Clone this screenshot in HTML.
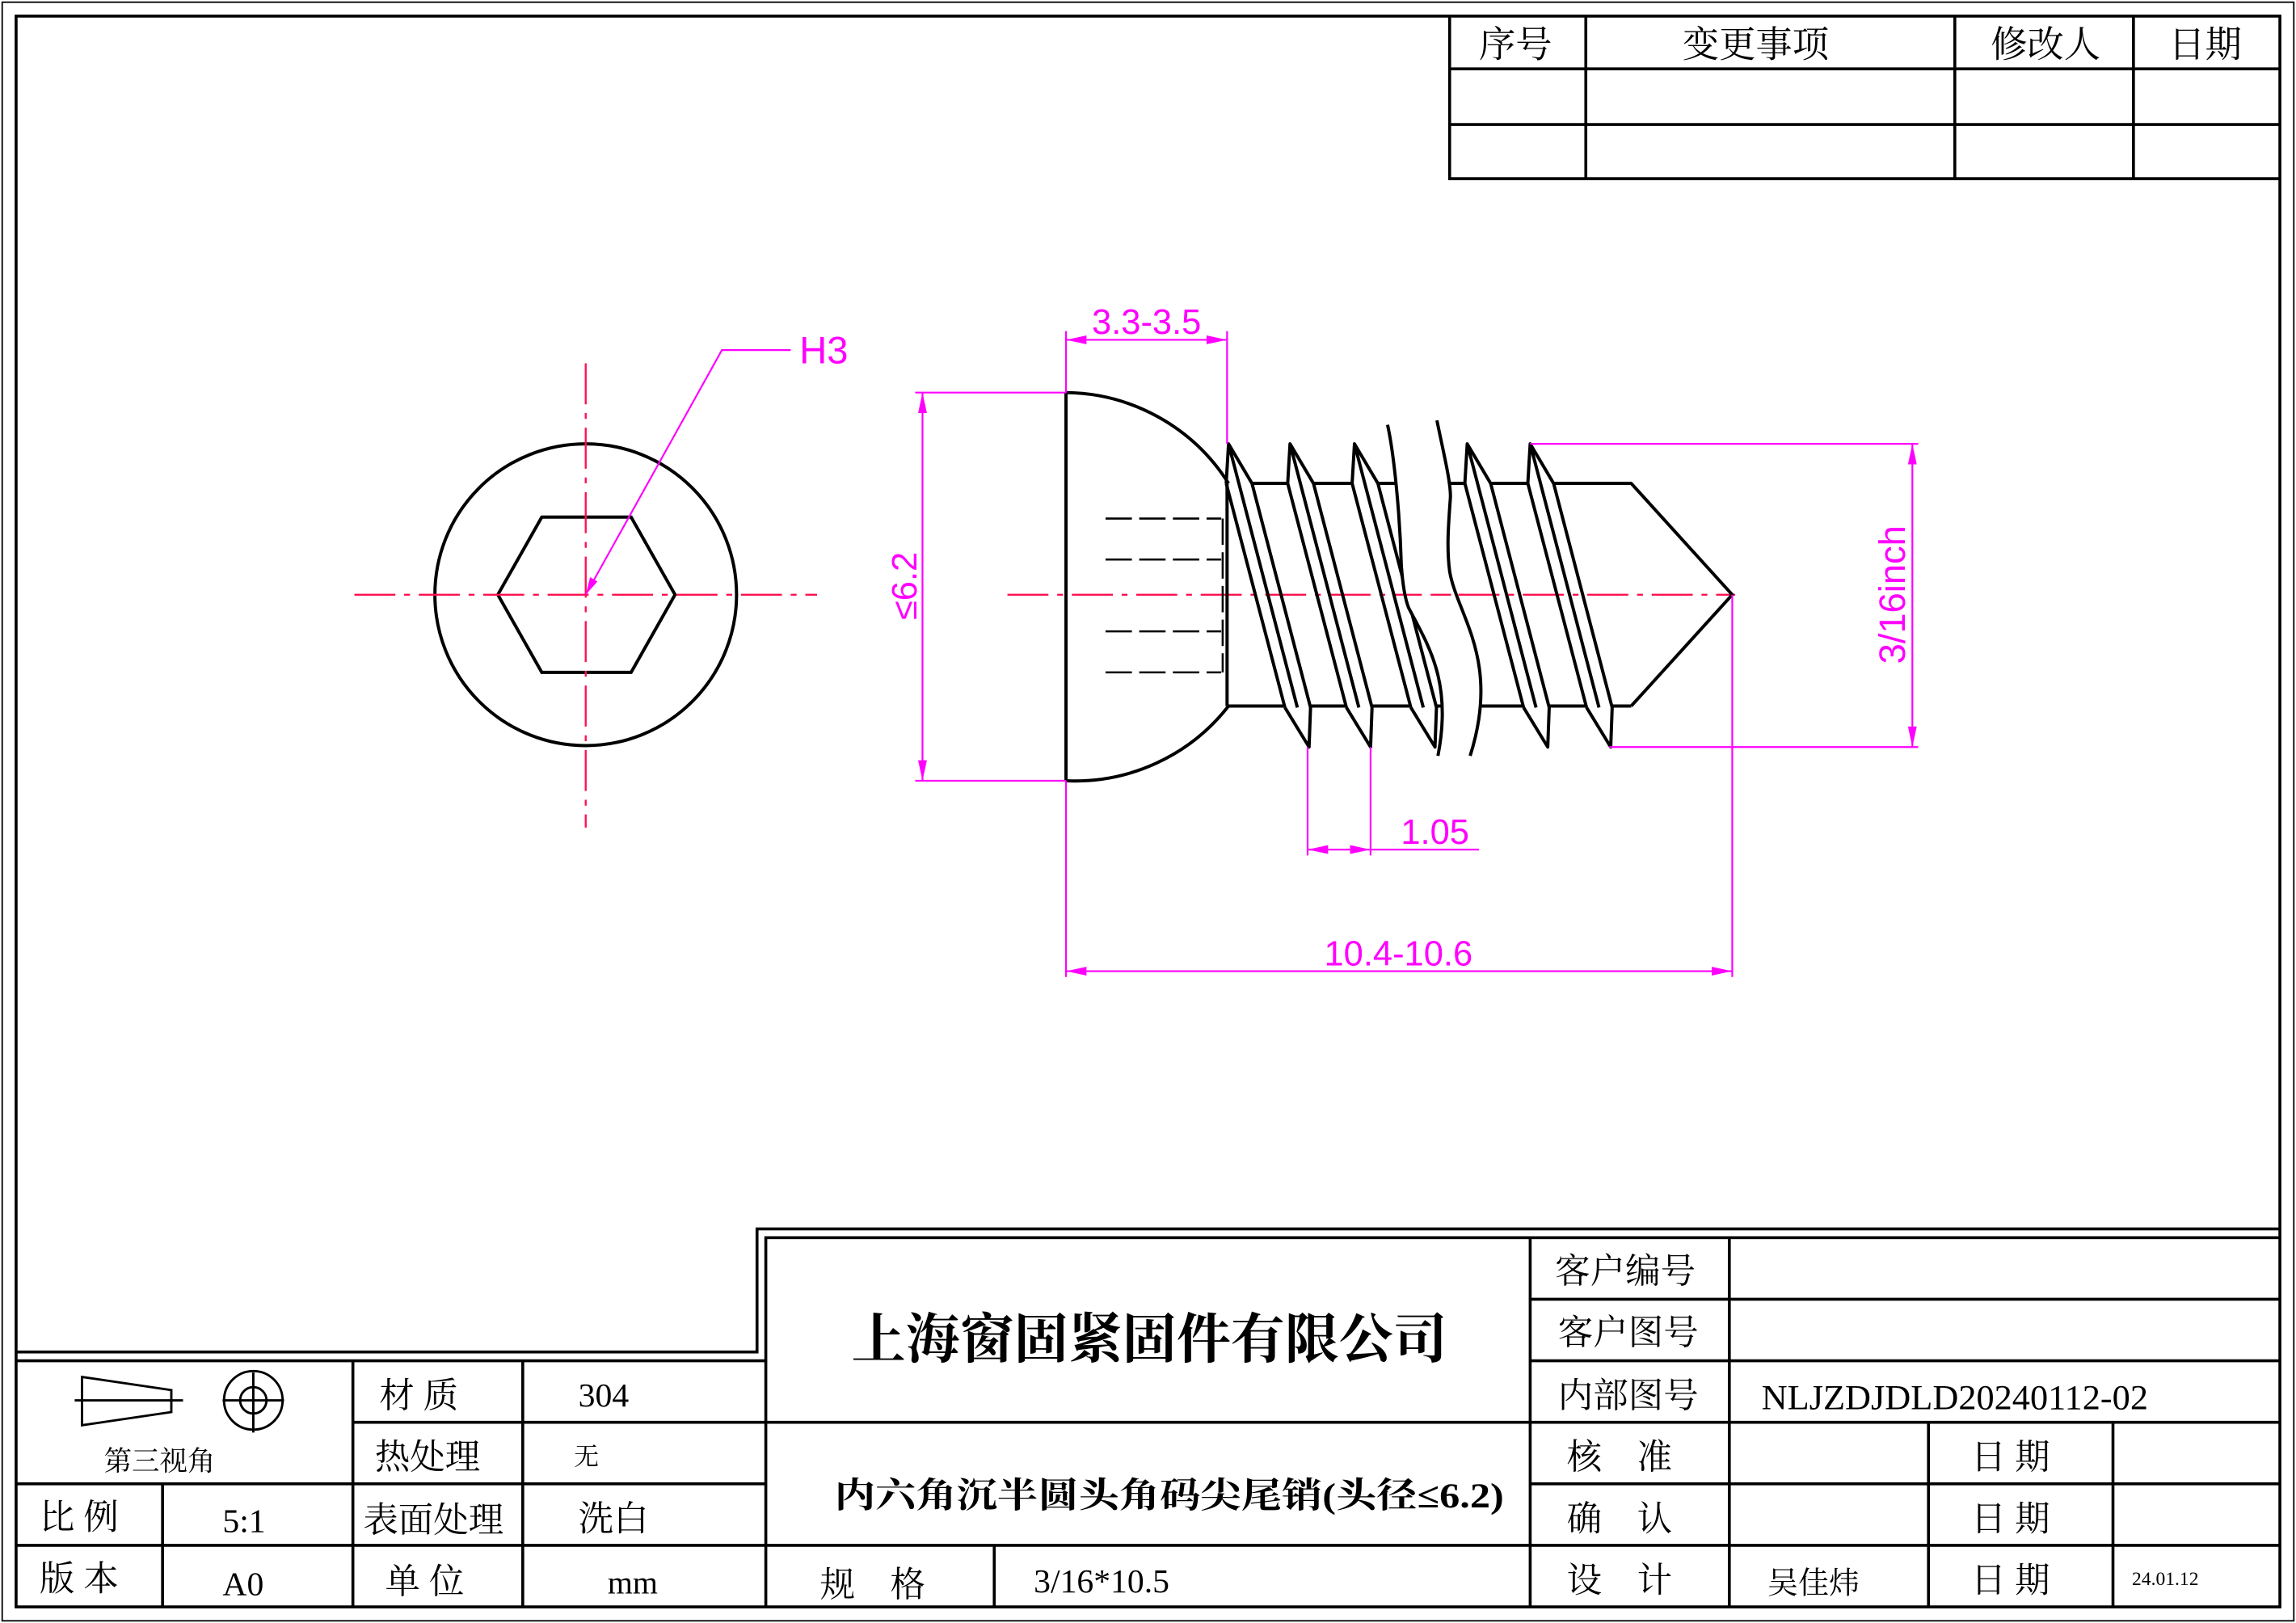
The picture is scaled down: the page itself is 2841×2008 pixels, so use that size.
<!DOCTYPE html>
<html><head><meta charset="utf-8"><style>
html,body{margin:0;padding:0;background:#fff}
svg{display:block}
.cn{font-family:"Liberation Serif","Noto Serif CJK SC",serif;fill:#000}
.lt{font-family:"Liberation Serif","Noto Serif CJK SC",serif;fill:#000}
.dm{font-family:"Liberation Sans","DejaVu Sans",sans-serif;fill:#ff00ff;font-weight:normal}
</style></head><body>
<svg width="2841" height="2008" viewBox="0 0 1568 1108" preserveAspectRatio="none" xmlns="http://www.w3.org/2000/svg">
<rect x="0" y="0" width="1568" height="1108" fill="#fff"/>
<rect x="1.5" y="1.5" width="1565" height="1105" fill="none" stroke="#000" stroke-width="1"/>
<g fill="none" stroke="#000" stroke-width="2">
<path d="M11,11 H1557 V1097 H11 Z"/>
<path d="M11,923 H517 V839 H1557"/>
<path d="M11,929 H523 V845 H1557"/>
<path d="M990,11 V122 H1557 M990,47 H1557 M990,85 H1557 M1083,11 V122 M1335,11 V122 M1457,11 V122"/>
<path d="M11,1013 H523 M11,1055 H523 M241,971 H523 M241,929 V1097 M357,929 V1097 M111,1013 V1097 M523,929 V1097"/>
<path d="M1045,845 V1097 M1181,845 V1097 M1045,887 H1557 M1045,929 H1557 M523,971 H1557 M1045,1013 H1557 M523,1055 H1557 M1317,971 V1097 M1443,971 V1097 M679,1055 V1097"/>
</g>
<g fill="none" stroke="#000" stroke-width="1.6">
<path d="M56,940 L117,949 V964 L56,973 Z"/>
<path d="M51,956 H125"/>
<circle cx="173" cy="956" r="20"/><circle cx="173" cy="956" r="9"/>
<path d="M152,956 H194 M173,937 V978"/>
</g>
<g fill="none" stroke="#000" stroke-width="2.2">
<circle cx="400" cy="406" r="103"/>
<path d="M340,406 L370,353 L431,353 L461,406 L431,459 L370,459 Z"/>
</g>
<g stroke="#ff1050" stroke-width="1.3" stroke-dasharray="28,6,4,6" fill="none">
<path d="M242,406 H558"/><path d="M400,248 V565"/>
<path d="M688,406 H1185"/>
</g>
<g stroke="#ff00ff" stroke-width="1.2" fill="none"><path d="M400,406 L493,239 H540"/></g>
<path d="M400,406 L403,394 L408,397 Z" fill="#ff00ff"/>
<text x="546" y="248" class="dm" font-size="26">H3</text>
<g fill="none" stroke="#000" stroke-width="2.2" stroke-linejoin="round">
<path d="M728,268 V533"/>
<path d="M728,268 A133,133 0 0 1 839,330"/>
<path d="M839,482 A133,133 0 0 1 728,533"/>
<path d="M838,330 V482"/>
<path d="M855,330 H879.4 M897,330 H923.4 M941,330 H1000.4 M1018,330 H1043.4 M1061,330 H1114 L1183,406 L1114,482"/>
<path d="M838,482 H877.5 M895,482 H919.5 M937,482 H963.5 M981,482 H1040.5 M1058,482 H1083.5 M1101,482 H1114"/>
<path d="M837.4,330 L839,303 L855,330 M837.4,330 L877.5,483 M839,303 L886,483 M855,330 L895,483 M877.5,483 L894,510 L895,483"/>
<path d="M879.4,330 L881,303 L897,330 M879.4,330 L919.5,483 M881,303 L928,483 M897,330 L937,483 M919.5,483 L936,510 L937,483"/>
<path d="M923.4,330 L925,303 L941,330 M923.4,330 L963.5,483 M925,303 L972,483 M941,330 L981,483 M963.5,483 L980,510 L981,483"/>
<path d="M1000.4,330 L1002,303 L1018,330 M1000.4,330 L1040.5,483 M1002,303 L1049,483 M1018,330 L1058,483 M1040.5,483 L1057,510 L1058,483"/>
<path d="M1043.4,330 L1045,303 L1061,330 M1043.4,330 L1083.5,483 M1045,303 L1092,483 M1061,330 L1101,483 M1083.5,483 L1100,510 L1101,483"/>
</g>
<path d="M947.6,290 C952,310 956,350 957,386 C958,400 960,410 962,415 C975,440 992,465 982,516 L1004,516 C1025,450 995,420 990,390 C988,375 989,360 990.5,340 C991,330 986,310 981.3,287 Z" fill="#fff" stroke="none"/>
<path d="M957,406 H1000" stroke="#ff1050" stroke-width="1.3" stroke-dasharray="14,6"/>
<g fill="none" stroke="#000" stroke-width="2.2">
<path d="M947.6,290 C952,310 956,350 957,386 C958,400 960,410 962,415 C975,440 992,465 982,516"/>
<path d="M981.3,287 C986,310 991,330 990.5,340 C989,360 988,375 990,390 C995,420 1025,450 1004,516"/>
</g>
<g stroke="#000" stroke-width="1.4" stroke-dasharray="18,5" fill="none">
<path d="M755,354 H834 M755,382 H834 M755,431 H834 M755,459 H834"/>
<path d="M835,354 V459"/>
</g>
<g stroke="#ff00ff" stroke-width="1.2" fill="none">
<path d="M728,268 V226 M838,303 V226 M728,232 H838"/>
<path d="M728,268 H625 M728,533 H625 M630,268 V533"/>
<path d="M1045,303 H1310 M1099,510 H1310 M1306,303 V510"/>
<path d="M893,510 V584 M936,510 V584 M893,580 H1010"/>
<path d="M728,533 V667 M1183,406 V667 M728,663 H1183"/>
</g>
<g fill="#ff00ff">
<path d="M728,232 l14,-3 v6 Z M838,232 l-14,-3 v6 Z"/>
<path d="M630,268 l-3,14 h6 Z M630,533 l-3,-14 h6 Z"/>
<path d="M1306,303 l-3,14 h6 Z M1306,510 l-3,-14 h6 Z"/>
<path d="M893,580 l14,-3 v6 Z M936,580 l-14,-3 v6 Z"/>
<path d="M728,663 l14,-3 v6 Z M1183,663 l-14,-3 v6 Z"/>
</g>
<text x="783" y="228" class="dm" font-size="24" text-anchor="middle">3.3-3.5</text>
<text x="0" y="0" class="dm" font-size="24" text-anchor="middle" transform="translate(626,400) rotate(-90)">≤6.2</text>
<text x="0" y="0" class="dm" font-size="25" text-anchor="middle" transform="translate(1301,406) rotate(-90)">3/16inch</text>
<text x="980" y="576" class="dm" font-size="24" text-anchor="middle">1.05</text>
<text x="955" y="659" class="dm" font-size="24" text-anchor="middle">10.4-10.6</text>
<g class="cn" font-size="25" text-anchor="middle">
<text x="1035" y="39">序号</text>
<text x="1199" y="39">变更事项</text>
<text x="1397" y="39">修改人</text>
<text x="1506" y="39">日期</text>
</g>
<text x="785" y="927" class="cn" font-size="37" font-weight="bold" text-anchor="middle">上海窗固紧固件有限公司</text>
<text x="570" y="1029" class="cn" font-size="24" font-weight="bold" textLength="457" lengthAdjust="spacingAndGlyphs">内六角沉半圆头角码尖尾销(头径≤6.2)</text>
<g class="cn" font-size="24">
<text x="1062" y="876">客户编号</text>
<text x="1064" y="918">客户图号</text>
<text x="1064" y="961">内部图号</text>
<text x="1070" y="1003">核　准</text>
<text x="1070" y="1045">确　认</text>
<text x="1070" y="1087">设　计</text>
<text x="1346" y="1003">日 期</text>
<text x="1346" y="1045">日 期</text>
<text x="1346" y="1087">日 期</text>
<text x="1207" y="1088" font-size="21">吴佳炜</text>
<text x="560" y="1090">规　格</text>
<text x="259" y="961">材 质</text>
<text x="256" y="1003">热处理</text>
<text x="248" y="1046">表面处理</text>
<text x="395" y="1045">洗白</text>
<text x="392" y="1000" font-size="17">无</text>
<text x="27" y="1044">比 例</text>
<text x="27" y="1086">版 本</text>
<text x="263" y="1088">单 位</text>
<text x="71" y="1004" font-size="19">第三视角</text>
</g>
<g class="lt">
<text x="1203" y="962" font-size="24" textLength="264" lengthAdjust="spacingAndGlyphs">NLJZDJDLD20240112-02</text>
<text x="1456" y="1082" font-size="13">24.01.12</text>
<text x="706" y="1087" font-size="23">3/16*10.5</text>
<text x="395" y="960" font-size="23">304</text>
<text x="152" y="1046" font-size="23">5:1</text>
<text x="152" y="1089" font-size="23">A0</text>
<text x="415" y="1088" font-size="22">mm</text>
</g>
</svg>
</body></html>
